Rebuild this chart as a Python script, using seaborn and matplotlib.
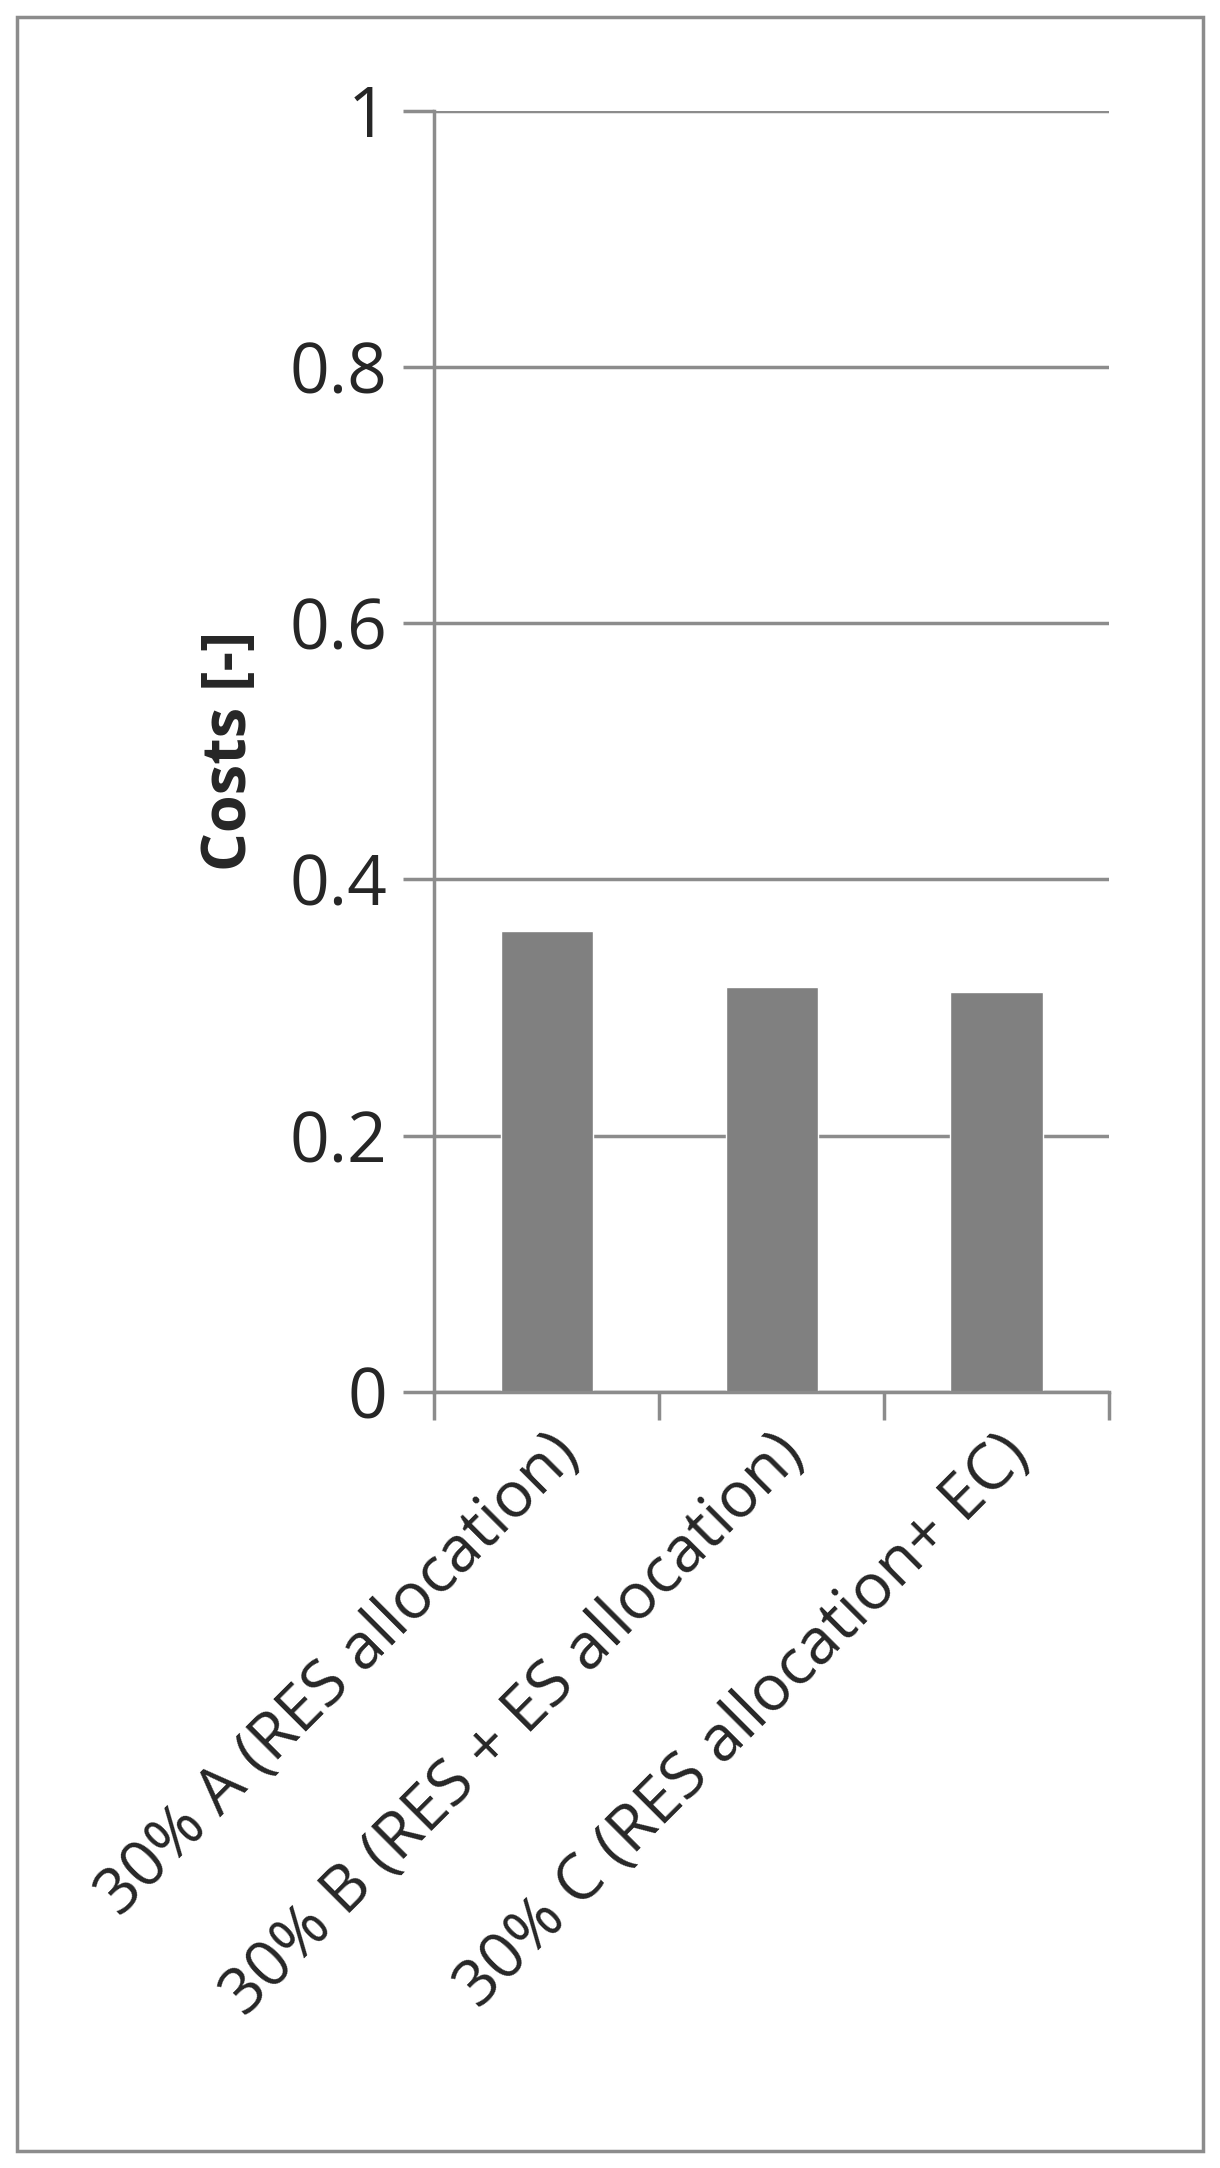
import numpy as np
import pandas as pd
import matplotlib
matplotlib.use("Agg")
import matplotlib.pyplot as plt
import seaborn as sns
from matplotlib.patches import Rectangle

categories = ["30% A (RES allocation)", "30% B (RES + ES allocation)", "30% C (RES allocation+ EC)"]
costs = [0.36, 0.316, 0.312]
yticks = [0, 0.2, 0.4, 0.6, 0.8, 1]
ytick_labels = ["0", "0.2", "0.4", "0.6", "0.8", "1"]

sns.set_style("white")
plt.rcParams['font.family'] = ['Open Sans', 'DejaVu Sans']

df = pd.DataFrame({"Scenario": categories, "Costs": costs})

fig = plt.figure(figsize=(12.2, 21.68), dpi=100)
ax = fig.add_axes([0.356, 0.358, 0.553, 0.591])
sns.barplot(data=df, x="Scenario", y="Costs", ax=ax, color="#808080",
            width=0.41, saturation=1)

grey = "#8c8c8c"
ax.set_ylim(0, 1)
ax.set_xlim(-0.5, 2.5)
ax.set_yticks(yticks)
ax.set_yticklabels(ytick_labels, fontsize=50)
ax.yaxis.grid(True, color=grey, linewidth=2.5)
ax.set_axisbelow(True)
ax.tick_params(axis="y", left=True, length=22, width=2.5, color=grey, direction="out", pad=12)

# category boundaries as ticks, labels on minor ticks
ax.set_xticks([-0.5, 0.5, 1.5, 2.5])
ax.set_xticklabels([])
ax.set_xticks([0, 1, 2], minor=True)
ax.set_xticklabels(categories, minor=True, rotation=45, ha="right",
                   rotation_mode="anchor", fontsize=46)
ax.tick_params(axis="x", which="major", bottom=True, length=20, width=2.5, color=grey, direction="out")
ax.tick_params(axis="x", which="minor", bottom=True, length=0, pad=22)

for s in ["top", "right"]:
    ax.spines[s].set_visible(False)
for s in ["left", "bottom"]:
    ax.spines[s].set_color(grey)
    ax.spines[s].set_linewidth(2.5)

ax.set_xlabel("")
ax.set_ylabel("Costs [-]", fontsize=44, fontweight="bold", labelpad=20)

fig.patches.append(Rectangle((0.014, 0.008), 0.972, 0.984, transform=fig.transFigure,
                             fill=False, edgecolor=grey, linewidth=2.5))

fig.savefig("out.png", dpi=100)
